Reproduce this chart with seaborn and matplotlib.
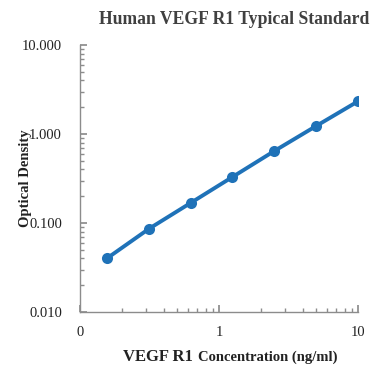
import matplotlib
matplotlib.use("Agg")
import matplotlib.pyplot as plt
import matplotlib.ticker as mticker
import seaborn as sns
import pandas as pd

concentration = [0.156, 0.313, 0.625, 1.25, 2.5, 5, 10]
optical_density = [0.040, 0.086, 0.168, 0.329, 0.644, 1.23, 2.33]

sns.set_theme(style="ticks")
plt.rcParams["font.family"] = ["Liberation Serif", "DejaVu Serif"]

df = pd.DataFrame({"conc": concentration, "od": optical_density})

fig = plt.figure(figsize=(3.82, 3.89), dpi=100)
ax = fig.add_axes([80 / 382, 1 - 312 / 389, 278 / 382, 267 / 389])

sns.lineplot(data=df, x="conc", y="od", ax=ax, color="#1F72B8",
             marker="o", markersize=8, linewidth=2.8, markeredgewidth=0)

ax.set_xscale("log")
ax.set_yscale("log")
ax.set_xlim(0.1, 10)
ax.set_ylim(0.01, 10)

ax.xaxis.set_major_formatter(mticker.FuncFormatter(lambda v, p: f"{v:.0f}"))
ax.yaxis.set_major_formatter(mticker.FuncFormatter(lambda v, p: f"{v:.3f}"))
ax.xaxis.set_minor_formatter(mticker.NullFormatter())

for s in ["top", "right"]:
    ax.spines[s].set_visible(False)
for s in ["left", "bottom"]:
    ax.spines[s].set_color("#8c8c8c")
    ax.spines[s].set_linewidth(1.0)

ax.tick_params(which="both", direction="in", color="#8c8c8c", labelsize=10.5,
               labelcolor="#222222")
ax.tick_params(which="major", length=5)
ax.tick_params(which="minor", length=3)
ax.tick_params(axis="y", pad=13)
ax.tick_params(axis="x", pad=10)

ax.set_xlabel("")
ax.set_ylabel("")

fig.text(234 / 382, 1 - 20 / 389, "Human VEGF R1 Typical Standard",
         ha="center", va="center", fontsize=12.7, fontweight="bold", color="#404040")
fig.text(26 / 382, 1 - 178 / 389, "Optical Density", rotation=90,
         ha="center", va="center", fontsize=10.5, fontweight="bold", color="#222222")
fig.text(193 / 382, 1 - 357 / 389, "VEGF R1",
         ha="right", va="center", fontsize=12, fontweight="bold", color="#222222")
fig.text(198 / 382, 1 - 357 / 389, "Concentration (ng/ml)",
         ha="left", va="center", fontsize=10.5, fontweight="bold", color="#222222")

fig.savefig("out.png", dpi=100)
